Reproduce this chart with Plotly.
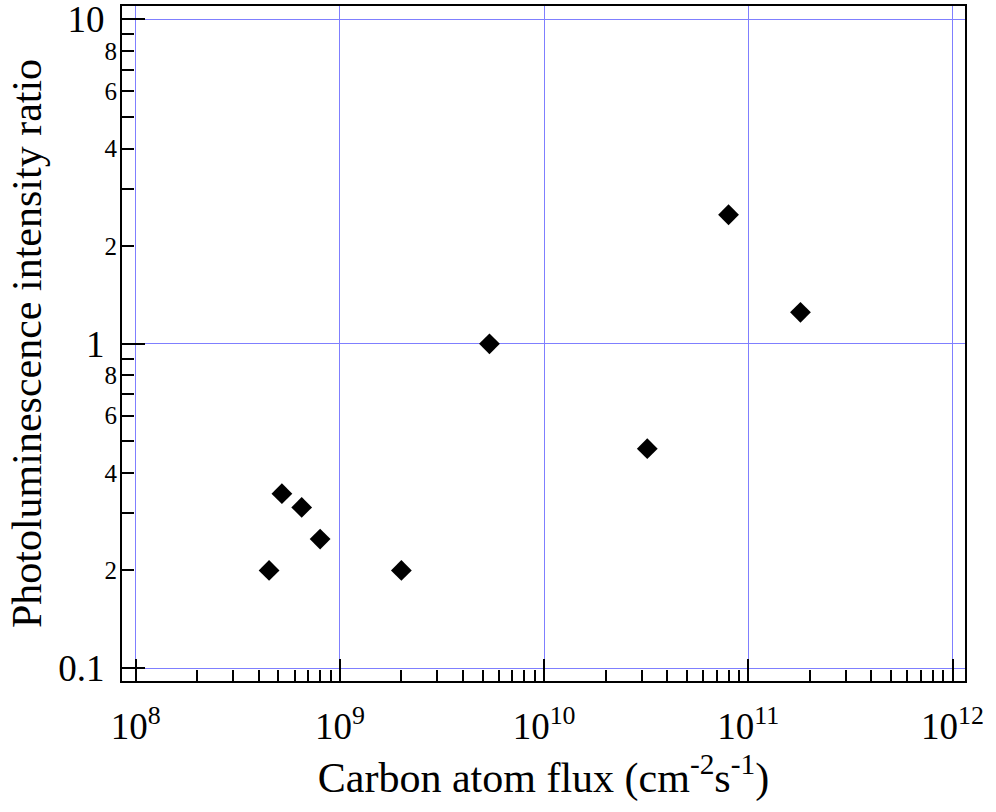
import plotly.graph_objects as go

# carbon atom flux (cm^-2 s^-1) vs photoluminescence intensity ratio
flux = [4.5e8, 5.2e8, 6.5e8, 8.0e8, 2.0e9, 5.4e9, 3.2e10, 8.0e10, 1.8e11]
pl_ratio = [0.20, 0.345, 0.313, 0.25, 0.20, 1.0, 0.475, 2.5, 1.25]

x_decades = [1e8, 1e9, 1e10, 1e11, 1e12]
x_labels = ["10<sup>8</sup>", "10<sup>9</sup>", "10<sup>10</sup>", "10<sup>11</sup>", "10<sup>12</sup>"]
y_decades = [0.1, 1, 10]
y_decade_labels = ["0.1", "1", "10"]
y_sub_vals = [0.2, 0.4, 0.6, 0.8, 2, 4, 6, 8]
y_sub_labels = ["2", "4", "6", "8", "2", "4", "6", "8"]

x_minor = [m * d for d in [1e8, 1e9, 1e10, 1e11] for m in range(2, 10)]
y_minor = [m * d for d in [0.1, 1] for m in range(2, 10)]

FONT = "Liberation Serif"
GRID = "#7f7fff"
Y_RANGE = [-1.0398, 1.0416]

fig = go.Figure()
fig.add_trace(go.Scatter(
    x=flux, y=pl_ratio, mode="markers",
    marker=dict(symbol="diamond", size=16, color="black", line=dict(width=0)),
    showlegend=False,
))
# same points on the overlay axis (transparent) so its sub-decade labels get drawn
fig.add_trace(go.Scatter(
    x=flux, y=pl_ratio, mode="markers", yaxis="y2",
    marker=dict(symbol="diamond", size=16, opacity=0),
    hoverinfo="skip", showlegend=False,
))

fig.update_layout(
    width=996, height=812, autosize=False,
    margin=dict(l=122, r=31, t=6, b=131, autoexpand=False),
    paper_bgcolor="white", plot_bgcolor="white",
    font=dict(family=FONT, color="black", size=36),
    xaxis=dict(
        type="log", range=[7.933, 12.061],
        tickmode="array", tickvals=x_decades, ticktext=x_labels,
        tickfont=dict(family=FONT, size=37),
        ticks="inside", ticklen=22, tickwidth=1.5, tickcolor="black",
        ticklabelstandoff=12, ticklabeloverflow="allow",
        showgrid=True, gridcolor=GRID, gridwidth=1,
        showline=True, linecolor="black", linewidth=2, mirror=True,
        zeroline=False, automargin=False,
        minor=dict(tickmode="array", tickvals=x_minor, ticks="inside",
                   ticklen=11, tickwidth=1.5, tickcolor="black", showgrid=False),
        title=dict(text="Carbon atom flux (cm<sup>-2</sup>s<sup>-1</sup>)",
                   font=dict(family=FONT, size=42), standoff=16),
    ),
    yaxis=dict(
        type="log", range=Y_RANGE,
        tickmode="array", tickvals=y_decades, ticktext=y_decade_labels,
        tickfont=dict(family=FONT, size=37),
        ticks="inside", ticklen=23, tickwidth=1.5, tickcolor="black",
        ticklabelstandoff=8, ticklabeloverflow="allow",
        showgrid=True, gridcolor=GRID, gridwidth=1,
        showline=True, linecolor="black", linewidth=2, mirror=True,
        zeroline=False, automargin=False,
        minor=dict(tickmode="array", tickvals=y_minor, ticks="inside",
                   ticklen=12, tickwidth=1.5, tickcolor="black", showgrid=False),
        title=dict(text="Photoluminescence intensity ratio",
                   font=dict(family=FONT, size=42), standoff=4),
    ),
    yaxis2=dict(
        type="log", range=Y_RANGE, overlaying="y", side="left", anchor="x",
        tickmode="array", tickvals=y_sub_vals, ticktext=y_sub_labels,
        tickfont=dict(family=FONT, size=25),
        ticks="inside", ticklen=12, tickwidth=1.5, tickcolor="black",
        ticklabelstandoff=4, ticklabeloverflow="allow",
        showgrid=False, showline=False, zeroline=False, automargin=False,
    ),
)

fig.write_html("out.html", config={"displayModeBar": False},
               post_script="document.body.style.margin='0';")
